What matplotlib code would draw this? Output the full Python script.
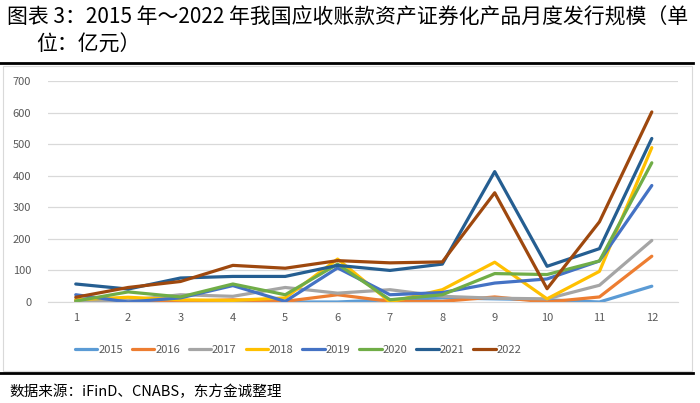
import matplotlib.pyplot as plt
from matplotlib.lines import Line2D

plt.rcParams['font.family'] = ['Noto Sans CJK SC', 'DejaVu Sans']

# 月份
months = list(range(1, 13))

# 各年度月度发行规模（亿元）
y2015 = [7, 0, 2, 2, 0, 0, 7, 13, 10, 7, 0, 50]
y2016 = [2, 0, 2, 7, 2, 23, 2, 2, 16, 0, 16, 145]
y2017 = [5, 5, 23, 18, 46, 28, 39, 18, 12, 10, 53, 195]
y2018 = [7, 15, 7, 5, 13, 136, 0, 39, 126, 10, 97, 489]
y2019 = [23, 0, 13, 52, 2, 108, 23, 30, 60, 73, 130, 369]
y2020 = [3, 32, 16, 57, 23, 120, 7, 23, 90, 87, 130, 441]
y2021 = [57, 41, 76, 81, 81, 116, 100, 120, 413, 113, 169, 518]
y2022 = [15, 46, 65, 116, 107, 131, 124, 127, 346, 42, 254, 602]

years = ['2015', '2016', '2017', '2018', '2019', '2020', '2021', '2022']
series = [y2015, y2016, y2017, y2018, y2019, y2020, y2021, y2022]
colors = ['#5B9BD5', '#ED7D31', '#A5A5A5', '#FFC000',
          '#4472C4', '#70AD47', '#255E91', '#9E480E']

fig = plt.figure(figsize=(7, 4.03), dpi=100)

# 标题
fig.text(0.010, 1 - 18 / 403, '图表 3：2015 年～2022 年我国应收账款资产证券化产品月度发行规模（单',
         fontsize=15, va='center', ha='left', color='black')
fig.text(0.052, 1 - 45 / 403, '位：亿元）', fontsize=15, va='center', ha='left', color='black')

# 黑色分隔线与图表外框
fig.add_artist(Line2D([0.0, 0.99], [1 - 63 / 403, 1 - 63 / 403], color='black', lw=2))
fig.add_artist(Line2D([0.0, 0.99], [1 - 373 / 403, 1 - 373 / 403], color='black', lw=2))
fig.add_artist(plt.Rectangle((0.004, 1 - 371 / 403), 0.985, (371 - 66) / 403,
                             fill=False, edgecolor='#D9D9D9', lw=0.8))

ax = fig.add_axes([48 / 700, 1 - 302 / 403, (678 - 48) / 700, (302 - 81) / 403])

for yr, vals, c in zip(years, series, colors):
    ax.plot(months, vals, color=c, lw=2.3, label=yr, solid_capstyle='round')

ax.set_xlim(0.47, 12.5)
ax.set_ylim(0, 700)
ax.set_yticks(range(0, 701, 100))
ax.set_xticks(months)
ax.grid(axis='y', color='#D9D9D9', lw=0.9)
ax.set_axisbelow(True)
for s in ax.spines.values():
    s.set_visible(False)
ax.spines['bottom'].set_visible(True)
ax.spines['bottom'].set_color('#D9D9D9')
ax.tick_params(length=0, labelsize=8, colors='#595959', pad=8)
ax.tick_params(axis='y', pad=12)

fig.legend(loc='center', bbox_to_anchor=(0.426, 1 - 350 / 403), ncol=8, frameon=False,
           fontsize=8, handlelength=2.0, handletextpad=0.1, columnspacing=0.8,
           labelcolor='#595959')

# 数据来源
fig.text(0.014, 1 - 392 / 403, '数据来源：iFinD、CNABS，东方金诚整理',
         fontsize=10.5, va='center', ha='left', color='black')

fig.savefig('out.png', dpi=100)
